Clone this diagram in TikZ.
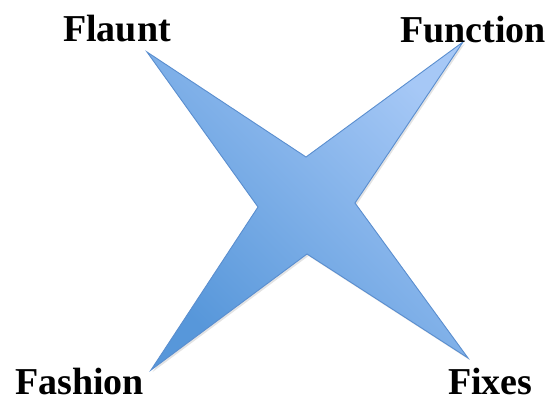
\documentclass[tikz,border=0pt]{standalone}
\usepackage{fontspec}
\setmainfont{Liberation Serif}
\usetikzlibrary{shadows}
\definecolor{StarLight}{HTML}{A6C8F6}
\definecolor{StarDark}{HTML}{5797DA}
\definecolor{StarEdge}{HTML}{5A8ECF}
\tikzset{label4f/.style={font=\fontsize{38}{40}\selectfont\bfseries,anchor=base west,inner sep=0pt,text depth=0pt}}
\begin{document}
\begin{tikzpicture}[x=1pt,y=-1pt]
        \useasboundingbox (0,0) rectangle (551,403);
        \coordinate (tl) at (147,52);
        \coordinate (tr) at (463,42);
        \coordinate (bl) at (151,370);
        \coordinate (br) at (468,358);
        \draw[StarEdge,line width=0.9pt,line join=miter,bottom color=StarDark,top color=StarLight,shading angle=-45,
          drop shadow={opacity=0.22,shadow xshift=1.5pt,shadow yshift=-2pt}]
          (tl) -- (306,157) -- (tr) -- (355,203) -- (br) -- (307,254) -- (bl) -- (258,207) -- cycle;
        \node[label4f] (flaunt) at (63,42) {Flaunt};
        \node[label4f] (function) at (400,43) {Function};
        \node[label4f] (fashion) at (15,394) {Fashion};
        \node[label4f] (fixes) at (448,394) {Fixes};
      \end{tikzpicture}
\end{document}
